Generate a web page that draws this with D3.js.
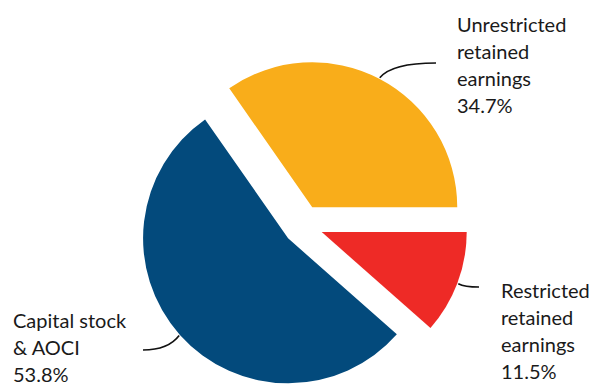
<!DOCTYPE html>
<html><head><meta charset="utf-8">
<script src="https://cdn.jsdelivr.net/npm/d3@7"></script>
<style>
html,body{margin:0;padding:0;background:#fff;}
text{font-family:Lato,"Open Sans",sans-serif;font-size:20px;fill:#1a1a1a;}
</style></head>
<body><svg id="c" width="592" height="385"></svg>
<script>
// Data (order = clockwise from 3 o'clock)
const categories = ["Restricted retained earnings", "Capital stock & AOCI", "Unrestricted retained earnings"];
const values = [11.5, 53.8, 34.7];
const labelLines = [
  ["Restricted", "retained", "earnings", "11.5%"],
  ["Capital stock", "& AOCI", "53.8%"],
  ["Unrestricted", "retained", "earnings", "34.7%"]
];
const colors = ["#EE2A26", "#034A7C", "#F9AD1A"];

// Layout
const cx = 303, cy = 225, R = 145, explode = 20;
const labelPos = [
  {x: 501, y: 298, ex: 479, ey: 287},
  {x: 13, y: 328, ex: 143, ey: 350},
  {x: 457, y: 32, ex: 436, ey: 63}
];
const lineH = 27;

const svg = d3.select("#c");
const g = svg.append("g").attr("transform", `translate(${cx},${cy})`);

const pie = d3.pie().sort(null).value(d => d)
  .startAngle(Math.PI / 2).endAngle(Math.PI / 2 + 2 * Math.PI);
const arcs = pie(values);
const arc = d3.arc().innerRadius(0).outerRadius(R);

arcs.forEach((a, i) => {
  const mid = (a.startAngle + a.endAngle) / 2;
  const ox = explode * Math.sin(mid), oy = -explode * Math.cos(mid);
  const sg = g.append("g").attr("transform", `translate(${ox},${oy})`);
  sg.append("path").attr("d", arc(a)).attr("fill", colors[i]);

  // leader line from slice edge at mid angle
  const sx = cx + ox + (R + 1) * Math.sin(mid);
  const sy = cy + oy - (R + 1) * Math.cos(mid);
  const lp = labelPos[i];
  const dir = Math.sign(lp.ex - sx);
  const ctrlX = sx + dir * Math.min(12, Math.abs(lp.ex - sx) * 0.3);
  svg.append("path")
    .attr("d", `M${sx},${sy} Q${ctrlX},${lp.ey} ${lp.ex},${lp.ey}`)
    .attr("fill", "none").attr("stroke", "#111").attr("stroke-width", 1.6);

  const t = svg.append("text").attr("x", lp.x).attr("y", lp.y);
  labelLines[i].forEach((ln, k) => {
    t.append("tspan").attr("x", lp.x).attr("y", lp.y + k * lineH).text(ln);
  });
});
</script></body></html>
